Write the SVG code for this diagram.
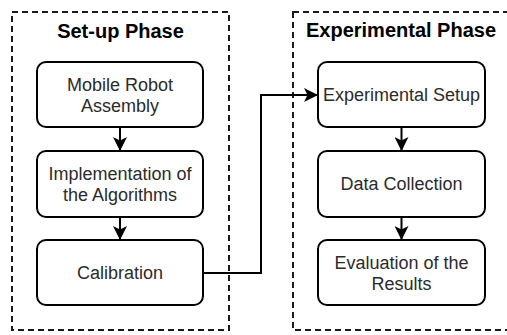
<svg xmlns="http://www.w3.org/2000/svg" width="507" height="335" viewBox="0 0 507 335">
<style>
.phase{fill:none;stroke:#1a1a1a;stroke-width:2;stroke-dasharray:6 4}
.node{fill:#fff;stroke:#000;stroke-width:2}
.title{font-family:"Liberation Sans",Arial,sans-serif;font-size:20px;font-weight:bold;fill:#000;text-anchor:middle}
.lbl{font-family:"Liberation Sans",Arial,sans-serif;font-size:18px;fill:#2b2b2b;text-anchor:middle}
.edge{fill:none;stroke:#000;stroke-width:2}
</style>
<defs>
<marker id="arr" markerWidth="14" markerHeight="14" viewBox="0 0 14 14" refX="13" refY="7" orient="auto" markerUnits="userSpaceOnUse">
<path d="M0,0 L14,7 L0,14 L3.5,7 Z" fill="#000"/>
</marker>
</defs>
<rect width="507" height="335" fill="#fff"/>
<g id="setup-phase">
<rect class="phase" x="12" y="12" width="217" height="318"/>
<text class="title" x="120.5" y="38">Set-up Phase</text>
</g>
<g id="experimental-phase">
<rect class="phase" x="293" y="12" width="220" height="318"/>
<text class="title" x="401" y="37">Experimental Phase</text>
</g>
<g id="mobile-robot-assembly">
<rect class="node" x="37" y="62" width="166" height="65" rx="9"/>
<text class="lbl" x="120" y="91">Mobile Robot</text>
<text class="lbl" x="120" y="112">Assembly</text>
</g>
<g id="implementation">
<rect class="node" x="37" y="151" width="166" height="66" rx="9"/>
<text class="lbl" x="120" y="180">Implementation of</text>
<text class="lbl" x="120" y="201">the Algorithms</text>
</g>
<g id="calibration">
<rect class="node" x="37" y="240" width="166" height="65" rx="9"/>
<text class="lbl" x="120" y="279">Calibration</text>
</g>
<g id="experimental-setup">
<rect class="node" x="318" y="62" width="167" height="65" rx="9"/>
<text class="lbl" x="401.5" y="101">Experimental Setup</text>
</g>
<g id="data-collection">
<rect class="node" x="318" y="151" width="167" height="66" rx="9"/>
<text class="lbl" x="401.5" y="190">Data Collection</text>
</g>
<g id="evaluation">
<rect class="node" x="318" y="240" width="167" height="65" rx="9"/>
<text class="lbl" x="401.5" y="269">Evaluation of the</text>
<text class="lbl" x="401.5" y="290">Results</text>
</g>
<g id="connectors">
<path class="edge" d="M120,127 V150" marker-end="url(#arr)"/>
<path class="edge" d="M120,217 V239" marker-end="url(#arr)"/>
<path class="edge" d="M203,273 H261 V95 H317" marker-end="url(#arr)"/>
<path class="edge" d="M401.5,127 V150" marker-end="url(#arr)"/>
<path class="edge" d="M401.5,217 V239" marker-end="url(#arr)"/>
</g>
</svg>
